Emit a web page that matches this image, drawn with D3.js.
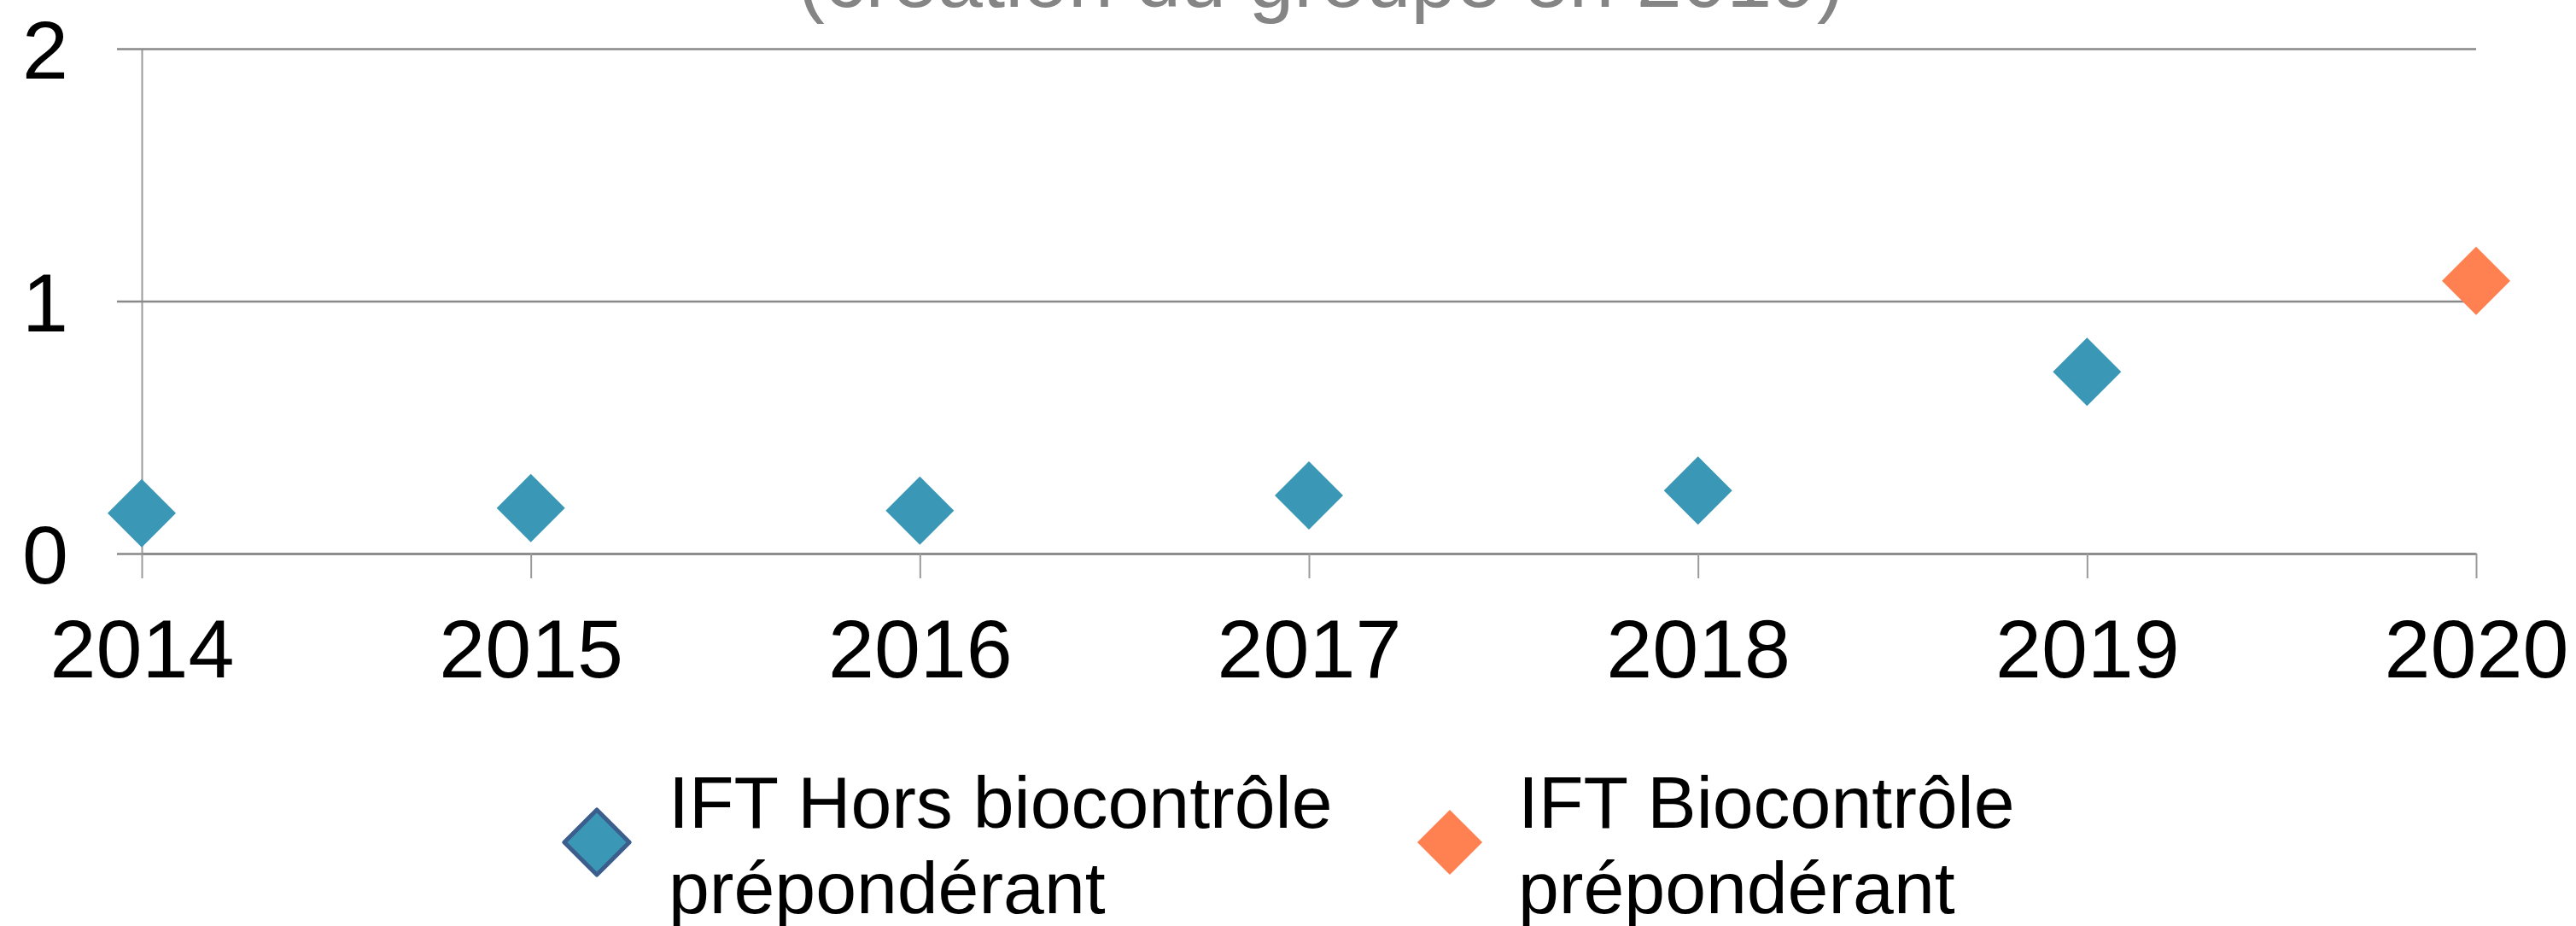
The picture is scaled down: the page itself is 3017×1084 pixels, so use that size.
<!DOCTYPE html>
<html>
<head>
<meta charset="utf-8">
<script src="https://d3js.org/d3.v7.min.js"></script>
<style>
    body { margin: 0; background: #fff; }
    svg { display: block; font-family: "Liberation Sans", Arial, sans-serif; }
</style>
</head>
<body>
<script>
// values
var years = ["2014", "2015", "2016", "2017", "2018", "2019", "2020"];
var horsBiocontrole = [0.16, 0.18, 0.17, 0.23, 0.25, 0.72, null];
var biocontrole = [null, null, null, null, null, null, 1.08];
var yTicks = [0, 1, 2];
var seriesLabels = [
    ["IFT Hors biocontrôle", "prépondérant"],
    ["IFT Biocontrôle", "prépondérant"]
];
var subtitle = "(création du groupe en 2019)";

var _width = 3017, _height = 1084;
var _plot = {left: 166, right: 2900, top: 57, bottom: 648};
var _gridOut = 29;
var _colors = ["#3a97b5", "#ff8050"];

var svg = d3.select("body").append("svg")
    .attr("width", _width)
    .attr("height", _height);

var x = d3.scalePoint()
    .domain(years)
    .range([_plot.left, _plot.right]);

var y = d3.scaleLinear()
    .domain([0, 2])
    .range([_plot.bottom, _plot.top]);

// subtitle, clipped at top like the original
svg.append("text")
    .attr("x", 1547)
    .attr("y", 8)
    .attr("text-anchor", "middle")
    .style("font-size", "95px")
    .style("fill", "#858585")
    .text(subtitle);

// y axis + gridlines
var yAxisG = svg.append("g")
    .attr("transform", "translate(" + _plot.left + ",0)")
    .call(d3.axisLeft(y)
        .tickValues(yTicks)
        .tickFormat(d3.format("d"))
        .tickSizeInner(-(_plot.right - _plot.left))
        .tickSizeOuter(0)
        .tickPadding(86));

yAxisG.select(".domain").attr("stroke", "#9a9a9a").attr("stroke-width", 2);
yAxisG.selectAll(".tick line")
    .attr("x1", -_gridOut)
    .attr("stroke", "#898989")
    .attr("stroke-width", 2.5);
yAxisG.selectAll(".tick text")
    .attr("dy", "0.36em")
    .style("font-size", "97px")
    .style("fill", "#000")
    .style("font-family", "'Liberation Sans', Arial, sans-serif");

// x axis
var xAxisG = svg.append("g")
    .attr("transform", "translate(0," + _plot.bottom + ")")
    .call(d3.axisBottom(x)
        .tickSizeInner(_gridOut)
        .tickSizeOuter(0));

xAxisG.select(".domain").attr("stroke", "#898989").attr("stroke-width", 2.5);
xAxisG.selectAll(".tick line")
    .attr("stroke", "#9a9a9a")
    .attr("stroke-width", 2);
xAxisG.selectAll(".tick text")
    .attr("y", 145)
    .attr("dy", null)
    .style("font-size", "97px")
    .style("fill", "#000")
    .style("font-family", "'Liberation Sans', Arial, sans-serif");

// markers
var diamond = d3.symbol().type(d3.symbolSquare).size(3200);

function drawSeries(values, color) {
    var pts = years.map(function (yr, i) {
        return {year: yr, value: values[i]};
    }).filter(function (d) {
        return d.value != null;
    });

    svg.append("g").selectAll("path")
        .data(pts)
        .enter().append("path")
        .attr("d", diamond)
        .attr("transform", function (d) {
            return "translate(" + x(d.year) + "," + y(d.value) + ") rotate(45)";
        })
        .attr("fill", color);
}

drawSeries(horsBiocontrole, _colors[0]);
drawSeries(biocontrole, _colors[1]);

// legend
var legendItems = [
    {x: 699, textX: 783, stroke: "#3b5e8c"},
    {x: 1698, textX: 1778, stroke: null}
];
var legendSymbol = d3.symbol().type(d3.symbolSquare).size(2900);

var legend = svg.append("g").selectAll("g")
    .data(legendItems)
    .enter().append("g");

legend.append("path")
    .attr("d", legendSymbol)
    .attr("transform", function (d) {
        return "translate(" + d.x + ",986) rotate(45)";
    })
    .attr("fill", function (d, i) { return _colors[i]; })
    .attr("stroke", function (d) { return d.stroke || "none"; })
    .attr("stroke-width", 5)
    .attr("stroke-linejoin", "round");

legend.append("text")
    .attr("y", 969)
    .style("font-size", "86px")
    .style("fill", "#000")
    .selectAll("tspan")
    .data(function (d, i) {
        return seriesLabels[i].map(function (s) { return {text: s, x: d.textX}; });
    })
    .enter().append("tspan")
    .attr("x", function (d) { return d.x; })
    .attr("dy", function (d, i) { return i ? 100 : 0; })
    .text(function (d) { return d.text; });
</script>
</body>
</html>
